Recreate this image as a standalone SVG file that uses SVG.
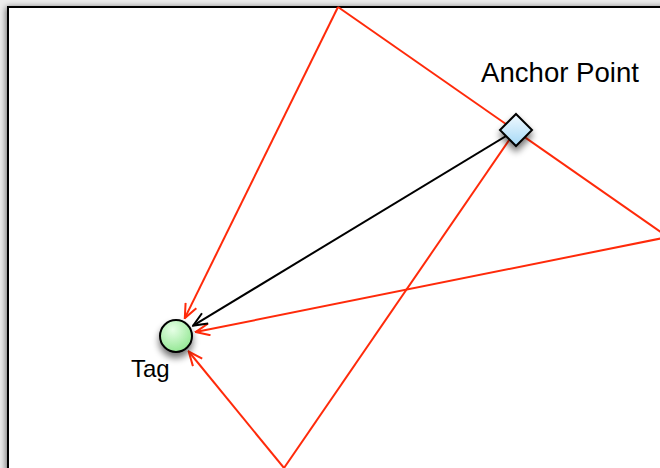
<svg xmlns="http://www.w3.org/2000/svg" width="660" height="468" viewBox="0 0 660 468">
  <defs>
    <filter id="frameShadow" x="-5%" y="-5%" width="110%" height="110%">
      <feGaussianBlur in="SourceAlpha" stdDeviation="3"/>
      <feOffset dx="-1" dy="1" result="b"/>
      <feComponentTransfer><feFuncA type="linear" slope="0.55"/></feComponentTransfer>
      <feMerge><feMergeNode/><feMergeNode in="SourceGraphic"/></feMerge>
    </filter>
    <filter id="nodeShadow" x="-60%" y="-60%" width="220%" height="240%">
      <feGaussianBlur in="SourceAlpha" stdDeviation="3.5"/>
      <feOffset dx="0" dy="5" result="b"/>
      <feComponentTransfer><feFuncA type="linear" slope="0.55"/></feComponentTransfer>
      <feMerge><feMergeNode/><feMergeNode in="SourceGraphic"/></feMerge>
    </filter>
    <linearGradient id="blueFill" x1="0" y1="0" x2="0" y2="1">
      <stop offset="0" stop-color="#f2faff"/>
      <stop offset="1" stop-color="#a4d8f6"/>
    </linearGradient>
    <radialGradient id="greenFill" cx="0.4" cy="0.3" r="0.75">
      <stop offset="0" stop-color="#e6ffe6"/>
      <stop offset="1" stop-color="#8fe68f"/>
    </radialGradient>
    <marker id="arrowRed" viewBox="0 0 16 14" refX="15" refY="7" markerWidth="16" markerHeight="14" markerUnits="userSpaceOnUse" orient="auto">
      <path d="M1,1 L15,7 L1,13" fill="none" stroke="#ff2a0a" stroke-width="2"/>
    </marker>
    <marker id="arrowBlack" viewBox="0 0 16 14" refX="15" refY="7" markerWidth="16" markerHeight="14" markerUnits="userSpaceOnUse" orient="auto">
      <path d="M1,1 L15,7 L1,13" fill="none" stroke="#000" stroke-width="2"/>
    </marker>
    <style>
      .red { stroke: #ff2a0a; stroke-width: 2; fill: none; }
      .blk { stroke: #000; stroke-width: 2; fill: none; }
      .lbl { font-family: "Liberation Sans", Arial, sans-serif; fill: #000; }
    </style>
  </defs>

  <!-- canvas backdrop and page frame -->
  <rect x="0" y="0" width="660" height="468" fill="#ececec"/>
  <rect x="8" y="7" width="700" height="520" fill="#fff" stroke="#000" stroke-width="2" filter="url(#frameShadow)"/>

  <g id="connectors">
    <!-- outline segments -->
    <line class="red" x1="338" y1="7" x2="668" y2="237"/>
    <line class="red" x1="284" y1="468" x2="516" y2="130"/>
    <!-- rays into the tag -->
    <line class="red" x1="338" y1="7" x2="184.8" y2="318.1" marker-end="url(#arrowRed)"/>
    <line class="red" x1="668" y1="237" x2="195.6" y2="332.1" marker-end="url(#arrowRed)"/>
    <line class="red" x1="284" y1="468" x2="188.7" y2="351.5" marker-end="url(#arrowRed)"/>
    <line class="blk" x1="516" y1="130" x2="193.1" y2="325.6" marker-end="url(#arrowBlack)"/>
  </g>

  <g id="anchor">
    <path d="M516,114 L532,130 L516,146 L500,130 Z" fill="url(#blueFill)" stroke="#000" stroke-width="2" stroke-linejoin="miter" filter="url(#nodeShadow)"/>
    <text class="lbl" x="481" y="82" font-size="27.6">Anchor Point</text>
  </g>

  <g id="tag">
    <circle cx="176" cy="336" r="16" fill="url(#greenFill)" stroke="#000" stroke-width="2" filter="url(#nodeShadow)"/>
    <text class="lbl" x="131" y="377" font-size="24">Tag</text>
  </g>
</svg>
